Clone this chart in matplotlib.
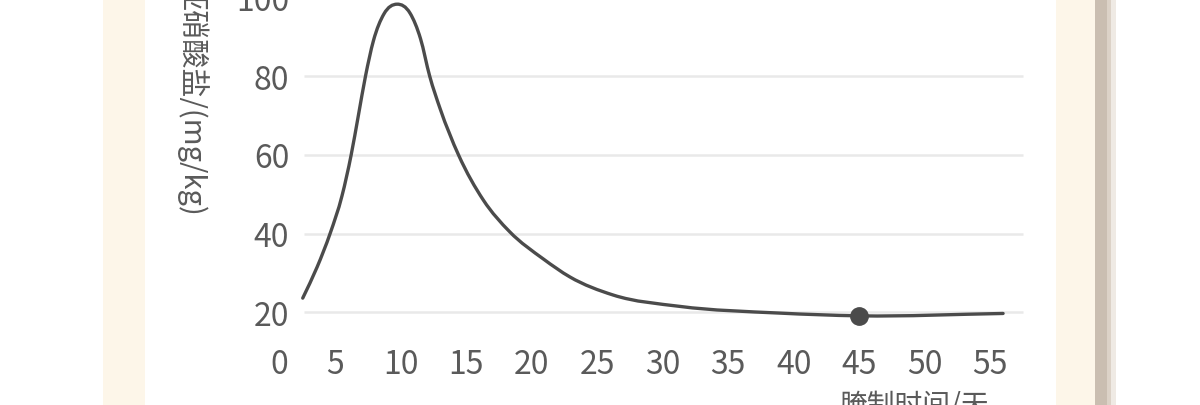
import numpy as np
import matplotlib
matplotlib.use("Agg")
import matplotlib.pyplot as plt
from matplotlib.path import Path
from matplotlib.patches import PathPatch, Rectangle
import matplotlib.transforms as mtransforms

plt.rcParams['font.family'] = ['Noto Sans CJK SC', 'DejaVu Sans']

# ---- data ----
days = [2.5, 3.6, 4.6, 5.5, 6.2, 6.75, 7.3, 7.9, 8.7, 9.7, 10.7, 11.5, 12.2,
        13.0, 14.4, 16.3, 18.3, 20.9, 22.9, 26.2, 31.3, 38.9, 45.0, 56.0]
nitrite = [23.6, 31.5, 40.1, 49.6, 60.0, 70.0, 80.1, 89.0, 95.8, 98.3, 96.0,
           89.5, 80.0, 71.7, 60.0, 48.5, 40.5, 33.5, 29.0, 24.4, 21.5, 19.8,
           19.1, 19.7]
marker_day = [45.0]
marker_value = [19.1]
x_ticks = [0, 5, 10, 15, 20, 25, 30, 35, 40, 45, 50, 55]
y_ticks = [20, 40, 60, 80, 100]
x_label = "腌制时间/天"
y_label = "亚硝酸盐/(mg/kg)"

LINE = "#4b4b4b"
TICK = "#5a5a5a"
GRID = "#e9e9e9"
CREAM = "#fdf6e9"

fig = plt.figure(figsize=(12, 4.06), dpi=100)
fig.patch.set_facecolor("white")

# decorative background bands
def band(x0, x1, color):
    fig.add_artist(Rectangle((x0 / 1200, 0), (x1 - x0) / 1200, 1,
                             transform=fig.transFigure, color=color,
                             lw=0, zorder=-10))

band(103, 145, CREAM)
band(1056, 1095, CREAM)
band(1095, 1107, "#cabeb1")
band(1107, 1111, "#dcd2c7")
band(1111, 1116, "#efeae4")

ax = fig.add_axes([260 / 1200, (406 - 345) / 406, 780 / 1200, 365 / 406])
ax.patch.set_visible(False)
ax.set_xlim(-0.764, 58.82)
ax.set_ylim(11.94, 104.70)
for s in ax.spines.values():
    s.set_visible(False)

# gridlines
ax.hlines(y_ticks, 2.6, 57.5, colors=GRID, lw=1.8, zorder=1)

# smooth curve through the read points (cubic Hermite drawn as Bezier path)
x = np.asarray(days, float)
y = np.asarray(nitrite, float)
h = np.diff(x)
d = np.diff(y) / h
m = np.zeros_like(y)
m[0], m[-1] = d[0], d[-1]
for i in range(1, len(y) - 1):
    m[i] = (h[i] * d[i - 1] + h[i - 1] * d[i]) / (h[i - 1] + h[i])
verts = [(x[0], y[0])]
codes = [Path.MOVETO]
for i in range(len(x) - 1):
    verts += [(x[i] + h[i] / 3, y[i] + m[i] * h[i] / 3),
              (x[i + 1] - h[i] / 3, y[i + 1] - m[i + 1] * h[i] / 3),
              (x[i + 1], y[i + 1])]
    codes += [Path.CURVE4] * 3
ax.add_patch(PathPatch(Path(verts, codes), facecolor="none", edgecolor=LINE,
                       lw=2.4, capstyle="round", joinstyle="round", zorder=3))

ax.plot(marker_day, marker_value, "o", ms=12.5, color=LINE, zorder=4)

# ticks
ax.set_xticks(x_ticks)
ax.set_xticklabels([str(t) for t in x_ticks])
ax.set_yticks(y_ticks)
ax.set_yticklabels([str(t) for t in y_ticks])
ax.tick_params(axis="both", length=0, labelsize=23, labelcolor=TICK)
ax.tick_params(axis="x", pad=3)
ax.tick_params(axis="y", pad=-21)
lbl0 = ax.get_xticklabels()[0]
lbl0.set_transform(lbl0.get_transform() +
                   mtransforms.ScaledTranslation(9 / 100, 0, fig.dpi_scale_trans))

fig.text(915 / 1200, 1 - 391 / 406, x_label, ha="center", va="top",
         fontsize=20, color=TICK)
fig.text(192 / 1200, 1 - 217 / 406, y_label, ha="center", va="bottom",
         rotation=270, fontsize=21, color=TICK)

fig.savefig("out.png", dpi=100)
